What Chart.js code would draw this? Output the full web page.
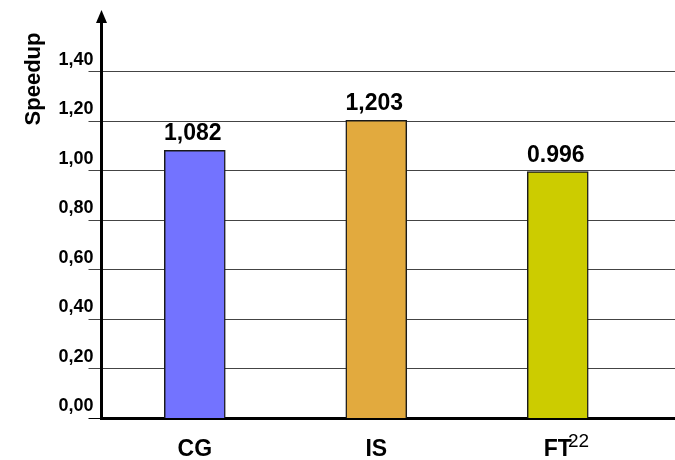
<!DOCTYPE html>
<html>
<head>
<meta charset="utf-8">
<script src="https://cdn.jsdelivr.net/npm/chart.js@4"></script>
<style>
  html, body { margin: 0; padding: 0; background: #fff; }
  #wrap { width: 675px; height: 460px; position: relative; }
</style>
</head>
<body>
<div id="wrap"><canvas id="speedup"></canvas></div>
<script>
const categories = ['CG', 'IS', 'FT'];
const speedups = [1.082, 1.203, 0.996];
const valueLabels = ['1,082', '1,203', '0.996'];
const barColors = ['#7373ff', '#e2aa3e', '#cccc00'];
const yTicks = [0, 0.2, 0.4, 0.6, 0.8, 1.0, 1.2, 1.4];

const FONT = '"Liberation Sans", Arial, Helvetica, sans-serif';

// arrow on the y axis, rotated axis title, value labels over bars, page number
const decorations = {
    id: 'decorations',
    afterDraw(chart) {
        const ctx = chart.ctx;
        const area = chart.chartArea;
        ctx.save();
        ctx.fillStyle = '#000';

        ctx.beginPath();
        ctx.moveTo(area.left, area.top - 12);
        ctx.lineTo(area.left + 5.5, area.top + 1);
        ctx.lineTo(area.left - 5.5, area.top + 1);
        ctx.closePath();
        ctx.fill();

        ctx.font = 'bold 23px ' + FONT;
        ctx.textAlign = 'center';
        ctx.textBaseline = 'alphabetic';
        chart.getDatasetMeta(0).data.forEach((bar, i) => {
            ctx.fillText(valueLabels[i], bar.x - 2, bar.y - 10);
        });

        ctx.font = 'bold 22px ' + FONT;
        ctx.save();
        ctx.translate(40, 79);
        ctx.rotate(-Math.PI / 2);
        ctx.fillText('Speedup', 0, 0);
        ctx.restore();

        ctx.font = '19px ' + FONT;
        ctx.textAlign = 'left';
        ctx.fillText('22', 568, 447);
        ctx.restore();
    }
};

new Chart(document.getElementById('speedup'), {
    type: 'bar',
    data: {
        datasets: [{
            data: speedups.map((v, i) => ({ x: i, y: v })),
            backgroundColor: barColors,
            borderColor: '#1a1a1a',
            borderWidth: 1.5,
            barThickness: 61
        }]
    },
    options: {
        responsive: true,
        maintainAspectRatio: false,
        animation: false,
        layout: { padding: { top: 22, left: 0, right: 0, bottom: 0 } },
        plugins: {
            legend: { display: false },
            tooltip: { enabled: false }
        },
        scales: {
            x: {
                type: 'linear',
                offset: false,
                min: -0.514,
                max: 2.646,
                z: 1,
                afterBuildTicks: s => { s.ticks = categories.map((c, i) => ({ value: i })); },
                afterFit: s => { s.height = 41.5; },
                grid: { display: false },
                border: { color: '#000', width: 3 },
                ticks: {
                    callback: v => categories[v],
                    color: '#000',
                    font: { family: FONT, size: 23, weight: 'bold' },
                    padding: 9,
                    maxRotation: 0,
                    autoSkip: false
                }
            },
            y: {
                min: 0,
                max: 1.6,
                afterBuildTicks: s => { s.ticks = yTicks.map(v => ({ value: v })); },
                afterFit: s => { s.width = 101.5; },
                grid: {
                    color: c => (c.tick && c.tick.value === 0 ? '#000' : '#444'),
                    lineWidth: 1,
                    tickLength: 13
                },
                border: { color: '#000', width: 3 },
                ticks: {
                    callback: v => v.toFixed(2).replace('.', ','),
                    color: '#000',
                    font: { family: FONT, size: 18, weight: 'bold' },
                    padding: -5,
                    labelOffset: -12
                }
            }
        }
    },
    plugins: [decorations]
});
</script>
</body>
</html>
